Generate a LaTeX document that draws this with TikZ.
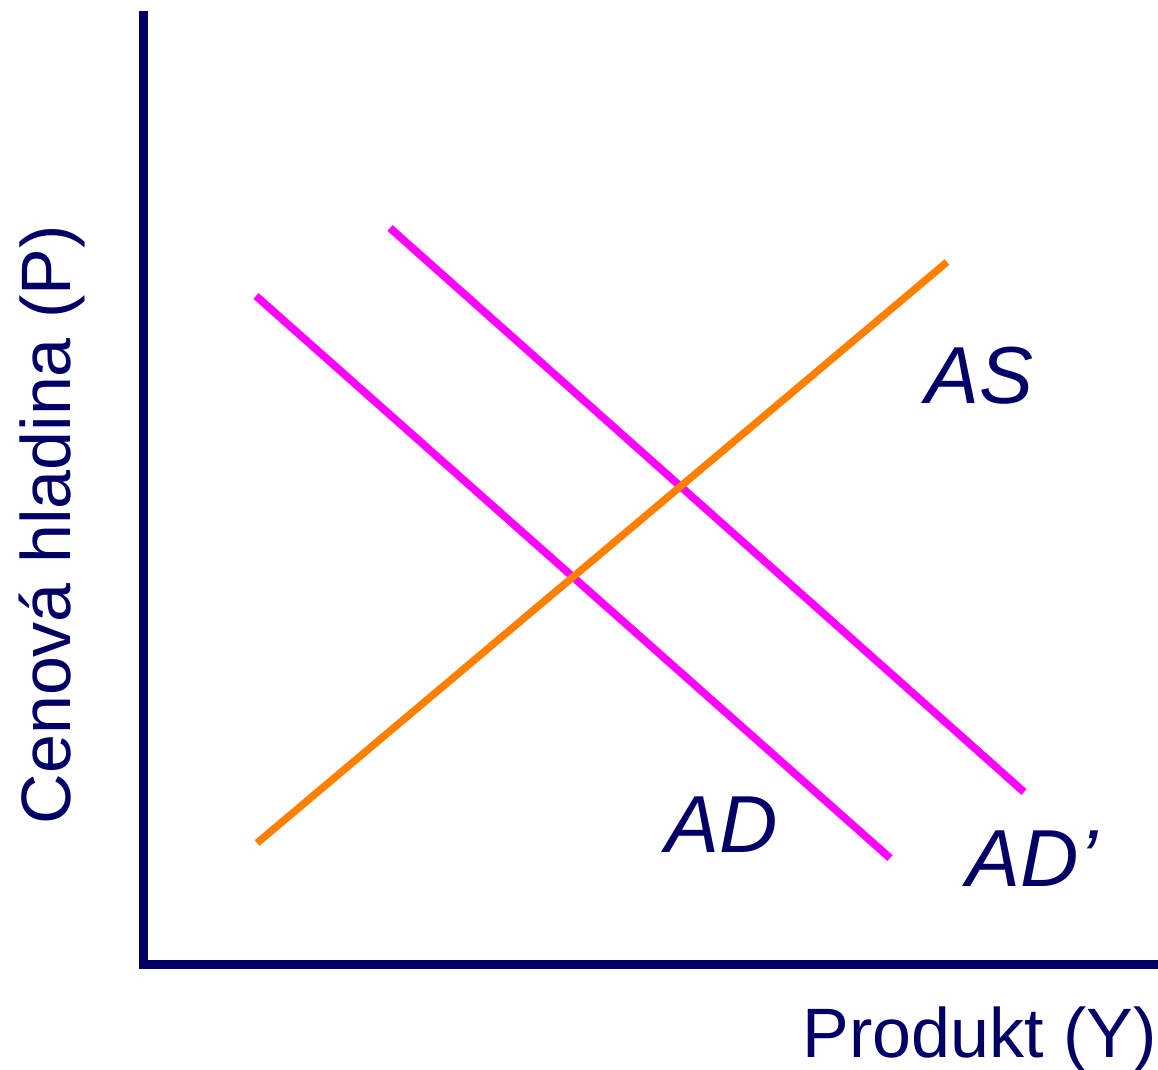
\documentclass[tikz,border=0pt]{standalone}
\usepackage{fontspec}
\setmainfont{Liberation Sans}
\definecolor{axisblue}{RGB}{0,0,102}
\definecolor{admag}{RGB}{255,0,255}
\definecolor{asorange}{RGB}{255,128,0}
\begin{document}
\begin{tikzpicture}[
    x=0.01cm, y=-0.01cm,
    every node/.style={text=axisblue, inner sep=0pt, anchor=base west},
    axislabel/.style={font=\fontsize{19.9}{24}\selectfont},
    curvelabel/.style={font=\fontsize{23}{28}\selectfont\itshape},
    axisline/.style={draw=axisblue, line width=2.55pt, line cap=butt, line join=miter},
    adline/.style={draw=admag, line width=2.2pt},
    asline/.style={draw=asorange, line width=2.1pt}
]
\useasboundingbox (0,0) rectangle (1158,1069);
% Axes
\coordinate (top) at (143.5,11);
\coordinate (origin) at (143.5,964.5);
\coordinate (right) at (1158,964.5);
\draw[axisline] (top) -- (origin) -- (right);
\node[axislabel, rotate=90] (plabel) at (70,825) {Cenová hladina (P)};
\node[axislabel] (ylabel) at (802,1057) {Produkt (Y)};

% AD curve
\coordinate (ad1) at (256,296);
\coordinate (ad2) at (890,858);
\draw[adline] (ad1) -- (ad2);
\node[curvelabel] (adlabel) at (665,852) {AD};

% AD' curve
\coordinate (adp1) at (390,228);
\coordinate (adp2) at (1024,792);
\draw[adline] (adp1) -- (adp2);
\node[curvelabel] (adplabel) at (966,886) {AD’};

% AS curve
\coordinate (as1) at (257,843);
\coordinate (as2) at (947,262);
\draw[asline] (as1) -- (as2);
\node[curvelabel] (aslabel) at (925,403) {AS};
\end{tikzpicture}
\end{document}
